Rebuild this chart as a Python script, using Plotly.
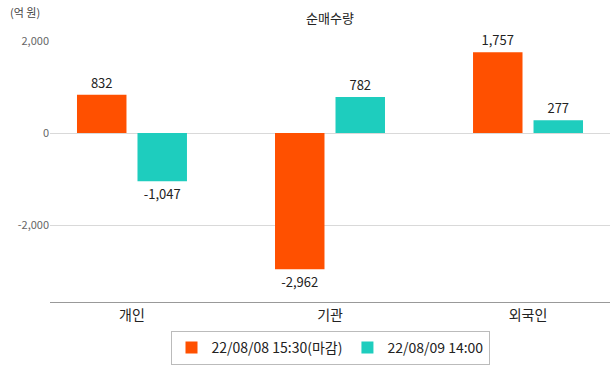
import plotly.graph_objects as go

categories = ["개인", "기관", "외국인"]
series_names = ["22/08/08 15:30(마감)", "22/08/09 14:00"]
values_0808 = [832, -2962, 1757]
values_0809 = [-1047, 782, 277]
colors = ["#FF5000", "#1ECDBE"]
y_ticks = [-2000, 0, 2000]
y_tick_labels = ["-2,000", "0", "2,000"]

FONT = "Noto Sans CJK KR"

fig = go.Figure()
for name, vals, col in zip(series_names, [values_0808, values_0809], colors):
    fig.add_trace(go.Bar(
        x=categories, y=vals, name=name, marker_color=col,
        marker_line_width=0,
        text=[f"{v:,}" for v in vals], textposition="outside",
        textfont=dict(size=13, color="#222", family=FONT),
        cliponaxis=False,
    ))

fig.update_layout(
    width=615, height=368,
    margin=dict(l=50, r=5, t=41, b=66, autoexpand=False),
    paper_bgcolor="white", plot_bgcolor="white",
    font=dict(family=FONT, color="#222"),
    barmode="group", bargap=0.389, bargroupgap=0.182,
    showlegend=True,
    title=dict(text="순매수량", x=0.5, xanchor="center", xref="paper",
               yref="container", y=1 - 18 / 368, yanchor="middle",
               font=dict(size=13, color="#222", family=FONT)),
    legend=dict(orientation="h", x=0.5, xanchor="center", xref="paper",
                yref="container", y=1 - 348 / 368, yanchor="middle",
                bordercolor="#bbbbbb", borderwidth=1,
                font=dict(size=14, color="#222", family=FONT), bgcolor="white",
                itemwidth=30, tracegroupgap=0),
)
fig.update_xaxes(range=[-0.414, 2.414], showline=True, linecolor="#999", linewidth=1,
                 ticks="", tickfont=dict(size=14, color="#222", family=FONT), showgrid=False,
                 fixedrange=True, automargin=False)
fig.update_yaxes(range=[-3674, 2000], tickvals=y_ticks, ticktext=y_tick_labels,
                 showgrid=True, gridcolor="#d9d9d9", gridwidth=1, zeroline=True,
                 zerolinecolor="#d9d9d9", zerolinewidth=1,
                 tickfont=dict(size=11, color="#666", family=FONT), ticks="", ticklen=0,
                 fixedrange=True, automargin=False)
fig.add_annotation(text="(억 원)", xref="paper", yref="paper", x=-42 / 560, y=1 + 29 / 261,
                   xanchor="left", yanchor="middle", showarrow=False,
                   font=dict(size=11, color="#444", family=FONT))

fig.write_html("out.html", config={"displayModeBar": False},
               post_script="document.body.style.margin='0';document.body.style.overflow='hidden';")
